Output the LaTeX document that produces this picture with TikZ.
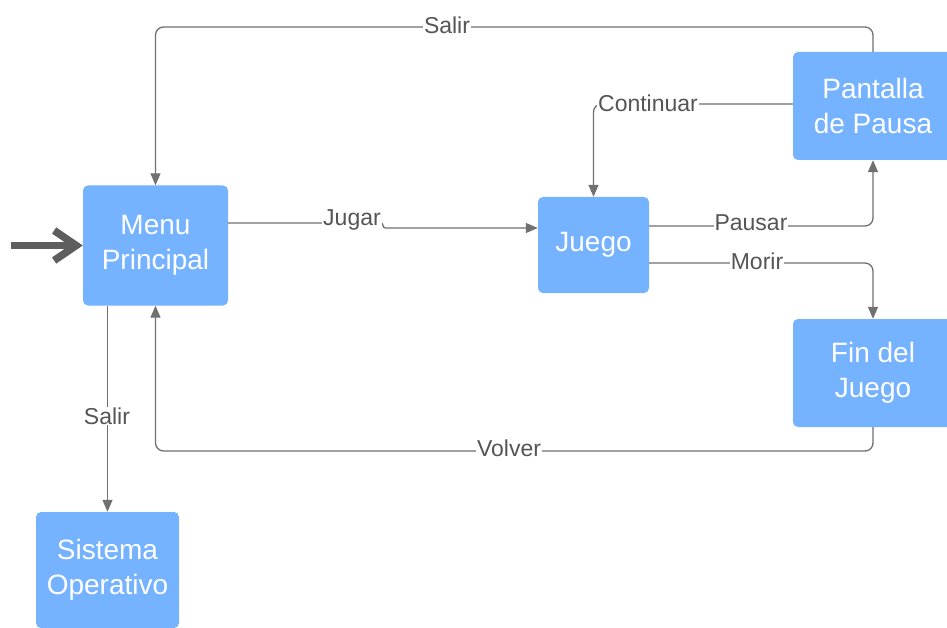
\documentclass[tikz,border=0pt]{standalone}
\usepackage{fontspec}
\setmainfont{Liberation Sans}
\usetikzlibrary{arrows.meta}
\definecolor{boxblue}{RGB}{117,178,255}
\definecolor{linegray}{RGB}{112,112,112}
\definecolor{labelgray}{RGB}{85,85,85}
\definecolor{startgray}{RGB}{94,94,94}
\begin{document}
\begin{tikzpicture}[x=1pt,y=-1pt,
 box/.style={fill=boxblue, draw=none, rounded corners=5pt, text=white, font=\fontsize{28}{35}\selectfont, align=center, inner sep=0pt},
 conn/.style={draw=linegray, line width=1.3pt, rounded corners=8pt, -{Triangle[length=12pt,width=10pt]}},
 lbl/.style={fill=white, text=labelgray, font=\fontsize{23}{26}\selectfont, inner sep=1pt}
]
\useasboundingbox (0,0) rectangle (947,628);
\clip (0,0) rectangle (947,628);
\fill[white] (0,0) rectangle (947,628);

\node[box, minimum width=145pt, minimum height=120pt] (menu) at (155.5,245.5) {Menu\\Principal};
\node[box, minimum width=111pt, minimum height=96pt] (juego) at (593.5,245) {Juego};
\node[box, minimum width=160pt, minimum height=108pt] (pausa) at (873,106) {Pantalla\\de Pausa};
\node[box, minimum width=160pt, minimum height=108pt] (fin) at (873,373) {Fin del\\Juego};
\node[box, minimum width=143pt, minimum height=116pt] (so) at (107.5,570) {Sistema\\Operativo};

\coordinate (start) at (11,245.5);
\coordinate (topy) at (0,27);
\coordinate (boty) at (0,451);
\coordinate (jog1) at (383,223);

\draw[startgray, line width=7.5pt, -{Straight Barb[length=22pt,width=30pt,line width=7.5pt]}] (start) -- (menu.west);

% Jugar
\draw[conn, rounded corners=2.5pt] ([yshift=22.5pt]menu.east) -- (jog1) |- ([yshift=17pt]juego.west);
% Salir (top)
\draw[conn] (pausa.north) |- (menu.north |- topy) -- (menu.north);
% Continuar
\draw[conn] ([yshift=2pt]pausa.west) -| (juego.north);
% Pausar
\draw[conn] ([yshift=19pt]juego.east) -| (pausa.south);
% Morir
\draw[conn] ([yshift=-18pt]juego.east) -| (fin.north);
% Volver
\draw[conn] (fin.south) |- (menu.south |- boty) -- (menu.south);
% Salir (down)
\draw[conn] (menu.south -| so.north) -- (so.north);

\node[lbl] (ljugar) at (352,220) {Jugar};
\node[lbl] (lsalir1) at (447,25) {Salir};
\node[lbl] (lcont) at (648,103) {Continuar};
\node[lbl] (lpausar) at (751,223) {Pausar};
\node[lbl] (lmorir) at (757,261) {Morir};
\node[lbl] (lvolver) at (509,448) {Volver};
\node[lbl] (lsalir2) at (107,416) {Salir};
\end{tikzpicture}
\end{document}
